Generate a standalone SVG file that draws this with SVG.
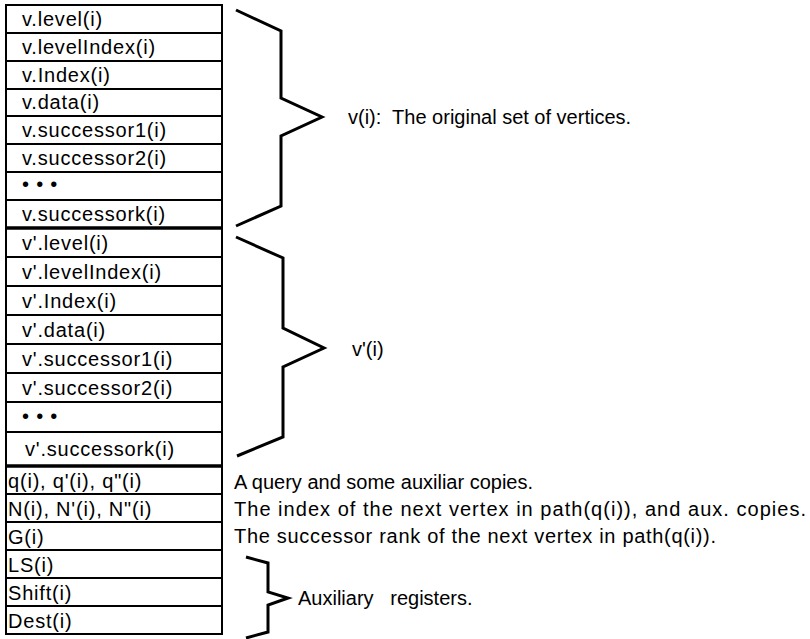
<svg xmlns="http://www.w3.org/2000/svg" width="810" height="639" viewBox="0 0 810 639">
<style>
.cell{fill:#fff;stroke:#000;stroke-width:2}
.sep{stroke:#000;stroke-width:3.5}
.t{font-family:"Liberation Sans",Arial,sans-serif;font-size:20px;letter-spacing:0.8px;fill:#000;white-space:pre}
.r{font-family:"Liberation Sans",Arial,sans-serif;font-size:20px;fill:#000;white-space:pre}
.brace{fill:none;stroke:#000;stroke-width:3;stroke-linejoin:miter}
</style>
<rect width="810" height="639" fill="#fff"/>
<g id="v-level"><rect class="cell" x="6" y="5" width="216" height="28"/><text class="t" x="22" y="26">v.level(i)</text></g>
<g id="v-levelIndex"><rect class="cell" x="6" y="33" width="216" height="28"/><text class="t" x="22" y="54">v.levelIndex(i)</text></g>
<g id="v-Index"><rect class="cell" x="6" y="61" width="216" height="28"/><text class="t" x="22" y="82">v.Index(i)</text></g>
<g id="v-data"><rect class="cell" x="6" y="89" width="216" height="27"/><text class="t" x="22" y="109">v.data(i)</text></g>
<g id="v-successor1"><rect class="cell" x="6" y="116" width="216" height="28"/><text class="t" x="22" y="137">v.successor1(i)</text></g>
<g id="v-successor2"><rect class="cell" x="6" y="144" width="216" height="28"/><text class="t" x="22" y="165">v.successor2(i)</text></g>
<g id="v-dots"><rect class="cell" x="6" y="172" width="216" height="28"/><text class="t" x="22" y="191">• • •</text></g>
<g id="v-successork"><rect class="cell" x="6" y="200" width="216" height="28"/><text class="t" x="22" y="221">v.successork(i)</text></g>

<g id="vp-level"><rect class="cell" x="6" y="228" width="216" height="29"/><text class="t" x="22" y="250">v'.level(i)</text></g>
<g id="vp-levelIndex"><rect class="cell" x="6" y="257" width="216" height="29"/><text class="t" x="22" y="279">v'.levelIndex(i)</text></g>
<g id="vp-Index"><rect class="cell" x="6" y="286" width="216" height="29"/><text class="t" x="22" y="308">v'.Index(i)</text></g>
<g id="vp-data"><rect class="cell" x="6" y="315" width="216" height="29"/><text class="t" x="22" y="337">v'.data(i)</text></g>
<g id="vp-successor1"><rect class="cell" x="6" y="344" width="216" height="29"/><text class="t" x="22" y="366">v'.successor1(i)</text></g>
<g id="vp-successor2"><rect class="cell" x="6" y="373" width="216" height="29"/><text class="t" x="22" y="395">v'.successor2(i)</text></g>
<g id="vp-dots"><rect class="cell" x="6" y="402" width="216" height="30"/><text class="t" x="22" y="423">• • •</text></g>
<g id="vp-successork"><rect class="cell" x="6" y="432" width="216" height="34"/><text class="t" x="25" y="456">v'.successork(i)</text></g>

<g id="q"><rect class="cell" x="6" y="466" width="216" height="28"/><text class="t" x="8" y="488">q(i), q'(i), q"(i)</text></g>
<g id="N"><rect class="cell" x="6" y="494" width="216" height="28"/><text class="t" x="8" y="516">N(i), N'(i), N"(i)</text></g>
<g id="G"><rect class="cell" x="6" y="522" width="216" height="28"/><text class="t" x="8" y="544">G(i)</text></g>
<g id="LS"><rect class="cell" x="6" y="550" width="216" height="28"/><text class="t" x="8" y="572">LS(i)</text></g>
<g id="Shift"><rect class="cell" x="6" y="578" width="216" height="28"/><text class="t" x="8" y="600">Shift(i)</text></g>
<g id="Dest"><rect class="cell" x="6" y="606" width="216" height="28"/><text class="t" x="8" y="628">Dest(i)</text></g>

<line class="sep" x1="6" y1="228" x2="222" y2="228"/>
<line class="sep" x1="6" y1="466" x2="222" y2="466"/>

<g id="connectors">
<path class="brace" d="M236,10 L281,31 L281,98 L322,117 L281,136 L281,206 L236,226"/>
<path class="brace" d="M236,237 L283,258 L283,328 L324,348 L283,367 L283,437 L237,456"/>
<path class="brace" d="M246,557 L268,563 L268,592 L288,598 L268,605 L268,632 L246,638"/>
</g>

<g id="labels">
<text class="r" x="348" y="124">v(i):  The original set of vertices.</text>
<text class="r" x="352" y="356">v'(i)</text>
<text class="r" x="234" y="489">A query and some auxiliar copies.</text>
<text class="r" x="234" y="516" textLength="572" lengthAdjust="spacing">The index of the next vertex in path(q(i)), and aux. copies.</text>
<text class="r" x="234" y="543" textLength="482" lengthAdjust="spacing">The successor rank of the next vertex in path(q(i)).</text>
<text class="r" x="298" y="605">Auxiliary   registers.</text>
</g>
</svg>
